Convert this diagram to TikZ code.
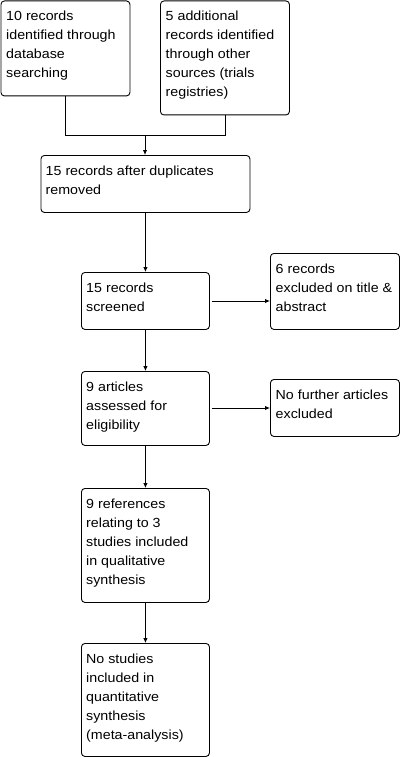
\documentclass[tikz,border=0pt]{standalone}
\usepackage{fontspec}
\setmainfont{Liberation Sans}[FakeStretch=1.08]
\usetikzlibrary{arrows.meta}
\begin{document}
\begin{tikzpicture}[x=1pt,y=-1pt,
  box/.style={draw=black, line width=0.9pt, rounded corners=3.5pt, inner sep=0pt, anchor=north west, fill=white},
  txt/.style={anchor=north west, inner sep=0pt, align=left, font=\fontsize{13.2}{19}\selectfont},
  conn/.style={draw=black, line width=0.9pt},
  arr/.style={conn, -{Latex[length=5pt,width=4.5pt]}}]
\fill[white] (0,0) rectangle (402,757);
\useasboundingbox (0,0) rectangle (402,757);
% boxes
\node[box, minimum width=129pt, minimum height=95pt] (A) at (0.5,0.5) {};
\node[box, minimum width=129pt, minimum height=114pt] (B) at (160,0.5) {};
\node[box, minimum width=209pt, minimum height=57pt] (C) at (40.5,155) {};
\node[box, minimum width=128pt, minimum height=57pt] (D) at (81,272) {};
\node[box, minimum width=129pt, minimum height=76pt] (E) at (270,253) {};
\node[box, minimum width=128pt, minimum height=74pt] (F) at (81,371) {};
\node[box, minimum width=129pt, minimum height=57pt] (G) at (270,379) {};
\node[box, minimum width=128pt, minimum height=114pt] (H) at (81,488) {};
\node[box, minimum width=128pt, minimum height=113pt] (I) at (81,643) {};
% texts
\node[txt] (tA) at ([xshift=5.5pt,yshift=-6.3pt]A.north west) {\strut 10 records\\identified through\\database\\searching};
\node[txt] (tB) at ([xshift=5.5pt,yshift=-6.3pt]B.north west) {\strut 5 additional\\records identified\\through other\\sources (trials\\registries)};
\node[txt] (tC) at ([xshift=5pt,yshift=-6.8pt]C.north west) {\strut 15 records after duplicates\\removed};
\node[txt] (tD) at ([xshift=5pt,yshift=-6.8pt]D.north west) {\strut 15 records\\screened};
\node[txt] (tE) at ([xshift=5.5pt,yshift=-6.5pt]E.north west) {\strut 6 records\\excluded on title \&\\abstract};
\node[txt] (tF) at ([xshift=5pt,yshift=-6.8pt]F.north west) {\strut 9 articles\\assessed for\\eligibility};
\node[txt] (tG) at ([xshift=5.5pt,yshift=-6.5pt]G.north west) {\strut No further articles\\excluded};
\node[txt] (tH) at ([xshift=5pt,yshift=-6.8pt]H.north west) {\strut 9 references\\relating to 3\\studies included\\in qualitative\\synthesis};
\node[txt] (tI) at ([xshift=5pt,yshift=-6.8pt]I.north west) {\strut No studies\\included in\\quantitative\\synthesis\\(meta-analysis)};
% connectors
\coordinate (j) at (145,135);
\draw[conn] (A.south) -- (A.south |- j) -- (B.south |- j) -- (B.south);
\draw[arr] (j) -- (C.north -| j);
\draw[arr] (C.south -| D.north) -- (D.north);
\draw[arr] (D.south) -- (F.north);
\draw[arr] (F.south) -- (H.north);
\draw[arr] (H.south) -- (I.north);
\draw[arr] ([xshift=2pt]D.east |- 0,301) -- (E.west |- 0,301);
\draw[arr] ([xshift=2pt]F.east |- 0,408) -- (G.west |- 0,408);
\end{tikzpicture}
\end{document}
